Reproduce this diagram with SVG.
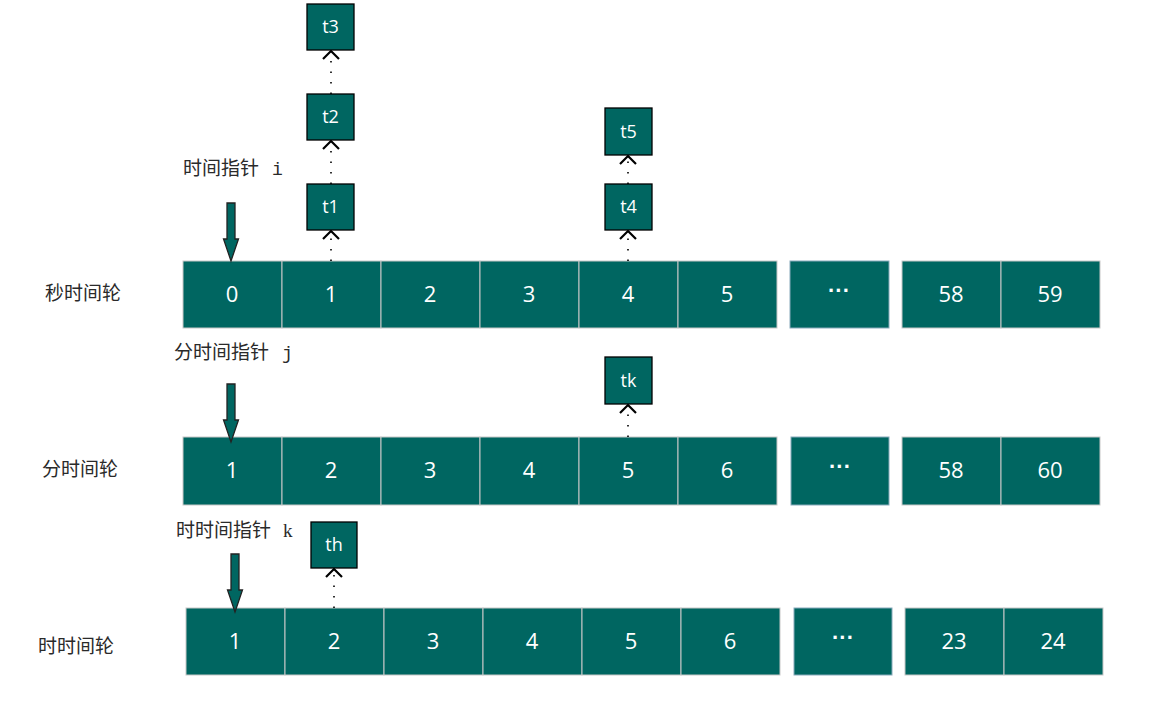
<svg xmlns="http://www.w3.org/2000/svg" width="1158" height="703" viewBox="0 0 1158 703">
<style>
.cell{fill:#006661;stroke:#c8c8c8;stroke-width:1}
.num{font-family:"Open Sans","Liberation Sans",sans-serif;font-size:22px;fill:#ffffff;text-anchor:middle}
.task{fill:#006661;stroke:#000;stroke-width:1.3}
.tl{font-family:"Open Sans","Liberation Sans",sans-serif;font-size:18px;fill:#ffffff;text-anchor:middle}
.lbl{font-family:"Noto Sans CJK SC",serif;font-size:19px;fill:#2a2a2a}
.mono{font-family:"Liberation Mono",monospace;font-size:18px;fill:#2a2a2a}
.dot{stroke:#000;stroke-width:1.6;stroke-dasharray:1.5 9;fill:none}
.chev{stroke:#000;stroke-width:2.2;fill:none}
.ptr{fill:#006661;stroke:#222;stroke-width:1.3}
.dots{font-family:"Liberation Sans",sans-serif;font-size:22px;font-weight:bold;fill:#fff;text-anchor:middle}
</style>
<defs>
<path id="ptr" d="M-4,0 H4 V36 H7.5 L0,58 L-7.5,36 H-4 Z"/>
</defs>

<g id="labels">
<text class="lbl" x="45" y="300">秒时间轮</text>
<text class="lbl" x="42" y="476">分时间轮</text>
<text class="lbl" x="38" y="653">时时间轮</text>
<text class="lbl" x="183" y="175">时间指针<tspan class="mono" dx="13">i</tspan></text>
<text class="lbl" x="174" y="359">分时间指针<tspan class="mono" dx="13">j</tspan></text>
<text class="lbl" x="176" y="537">时时间指针<tspan font-family="Liberation Serif,serif" dx="12">k</tspan></text>
</g>

<g id="sec-wheel">
<rect class="cell" x="183" y="261" width="99" height="67"/><text class="num" x="232" y="302">0</text>
<rect class="cell" x="282" y="261" width="99" height="67"/><text class="num" x="331" y="302">1</text>
<rect class="cell" x="381" y="261" width="99" height="67"/><text class="num" x="430" y="302">2</text>
<rect class="cell" x="480" y="261" width="99" height="67"/><text class="num" x="529" y="302">3</text>
<rect class="cell" x="579" y="261" width="99" height="67"/><text class="num" x="628" y="302">4</text>
<rect class="cell" x="678" y="261" width="99" height="67"/><text class="num" x="727" y="302">5</text>
<rect class="cell" x="790" y="261" width="99" height="67" style="stroke:#8ab"/><text class="dots" x="839" y="298">···</text>
<rect class="cell" x="902" y="261" width="99" height="67"/><text class="num" x="951" y="302">58</text>
<rect class="cell" x="1001" y="261" width="99" height="67"/><text class="num" x="1050" y="302">59</text>
</g>

<g id="min-wheel">
<rect class="cell" x="183" y="437" width="99" height="68"/><text class="num" x="232" y="478">1</text>
<rect class="cell" x="282" y="437" width="99" height="68"/><text class="num" x="331" y="478">2</text>
<rect class="cell" x="381" y="437" width="99" height="68"/><text class="num" x="430" y="478">3</text>
<rect class="cell" x="480" y="437" width="99" height="68"/><text class="num" x="529" y="478">4</text>
<rect class="cell" x="579" y="437" width="99" height="68"/><text class="num" x="628" y="478">5</text>
<rect class="cell" x="678" y="437" width="99" height="68"/><text class="num" x="727" y="478">6</text>
<rect class="cell" x="791" y="437" width="98" height="68" style="stroke:#8ab"/><text class="dots" x="840" y="474">···</text>
<rect class="cell" x="902" y="437" width="99" height="68"/><text class="num" x="951" y="478">58</text>
<rect class="cell" x="1001" y="437" width="99" height="68"/><text class="num" x="1050" y="478">60</text>
</g>

<g id="hour-wheel">
<rect class="cell" x="186" y="608" width="99" height="67"/><text class="num" x="235" y="649">1</text>
<rect class="cell" x="285" y="608" width="99" height="67"/><text class="num" x="334" y="649">2</text>
<rect class="cell" x="384" y="608" width="99" height="67"/><text class="num" x="433" y="649">3</text>
<rect class="cell" x="483" y="608" width="99" height="67"/><text class="num" x="532" y="649">4</text>
<rect class="cell" x="582" y="608" width="99" height="67"/><text class="num" x="631" y="649">5</text>
<rect class="cell" x="681" y="608" width="99" height="67"/><text class="num" x="730" y="649">6</text>
<rect class="cell" x="794" y="608" width="98" height="67" style="stroke:#8ab"/><text class="dots" x="843" y="645">···</text>
<rect class="cell" x="905" y="608" width="99" height="67"/><text class="num" x="954" y="649">23</text>
<rect class="cell" x="1004" y="608" width="99" height="67"/><text class="num" x="1053" y="649">24</text>
</g>

<g id="pointers">
<use href="#ptr" class="ptr" x="231" y="203"/>
<use href="#ptr" class="ptr" x="231" y="384"/>
<use href="#ptr" class="ptr" x="235" y="554"/>
</g>

<g id="connectors">
<line class="dot" x1="331" y1="261" x2="331" y2="232"/>
<polyline class="chev" points="323,239 331,231 339,239"/>
<line class="dot" x1="331" y1="184" x2="331" y2="142"/>
<polyline class="chev" points="323,149 331,141 339,149"/>
<line class="dot" x1="331" y1="94" x2="331" y2="52"/>
<polyline class="chev" points="323,59 331,51 339,59"/>
<line class="dot" x1="628" y1="261" x2="628" y2="232"/>
<polyline class="chev" points="620,239 628,231 636,239"/>
<line class="dot" x1="628" y1="184" x2="628" y2="157"/>
<polyline class="chev" points="620,164 628,156 636,164"/>
<line class="dot" x1="628" y1="437" x2="628" y2="406"/>
<polyline class="chev" points="620,413 628,405 636,413"/>
<line class="dot" x1="334" y1="608" x2="334" y2="570"/>
<polyline class="chev" points="326,577 334,569 342,577"/>
</g>

<g id="t1"><rect class="task" x="307" y="184" width="47" height="46"/><text class="tl" x="330.5" y="213">t1</text></g>
<g id="t2"><rect class="task" x="307" y="94" width="47" height="46"/><text class="tl" x="330.5" y="123">t2</text></g>
<g id="t3"><rect class="task" x="307" y="4" width="47" height="46"/><text class="tl" x="330.5" y="33">t3</text></g>
<g id="t4"><rect class="task" x="605" y="184" width="47" height="46"/><text class="tl" x="628.5" y="213">t4</text></g>
<g id="t5"><rect class="task" x="605" y="108" width="47" height="47"/><text class="tl" x="628.5" y="138">t5</text></g>
<g id="tk"><rect class="task" x="605" y="357" width="47" height="47"/><text class="tl" x="628.5" y="387">tk</text></g>
<g id="th"><rect class="task" x="311" y="522" width="46" height="46"/><text class="tl" x="334" y="551">th</text></g>
</svg>
